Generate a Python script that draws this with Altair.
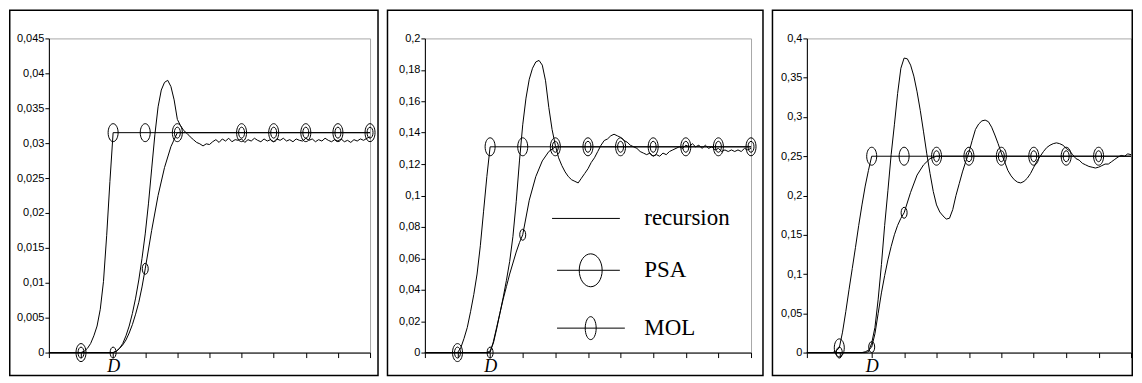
import altair as alt
import pandas as pd

# ---------------- data ----------------
STEP = 0.1  # recursion curves are sampled every 0.1 tick (x axis has 10 ticks)

P1_REC = [
    0, 0, 0, 0, 0, 0, 0, 0, 0, 0,
    0, 0, 0, 0, 0, 0, 0, 0, 0, 0,
    0, 0.0002, 0.0006, 0.0013, 0.0024, 0.0038, 0.0056, 0.0078, 0.0104, 0.0135,
    0.0170, 0.0213, 0.0263, 0.0312, 0.0352, 0.0376, 0.0387, 0.0390, 0.0381, 0.0362,
    0.0334, 0.0325, 0.0318, 0.0314, 0.0309, 0.0305, 0.0301, 0.0299, 0.0296, 0.0299,
    0.0298, 0.0302, 0.0305, 0.0301, 0.0306, 0.0303, 0.0307, 0.0302, 0.0305, 0.0304,
    0.0306, 0.0301, 0.0305, 0.0303, 0.0307, 0.0304, 0.0302, 0.0306, 0.0303, 0.0305,
    0.0302, 0.0306, 0.0304, 0.0307, 0.0303, 0.0305, 0.0302, 0.0306, 0.0304, 0.0303,
    0.0307, 0.0304, 0.0306, 0.0302, 0.0305, 0.0303, 0.0307, 0.0304, 0.0302, 0.0305,
    0.0303, 0.0306, 0.0302, 0.0304, 0.0301, 0.0305, 0.0303, 0.0306, 0.0304, 0.0307,
    0.0309,
]
P1_PSA_T = [0, 1.0, 1.1, 1.2, 1.3, 1.4, 1.5, 1.6, 1.7, 1.8, 1.9, 2.0, 10]
P1_PSA_Y = [0, 0, 0.0002, 0.0006, 0.0013, 0.0024, 0.0038, 0.0062, 0.0102, 0.0168, 0.0245, 0.0315, 0.0315]
P1_MOL_T = [0, 2.0, 2.1, 2.2, 2.3, 2.4, 2.5, 2.6, 2.7, 2.8, 2.9, 3.0, 3.2, 3.4, 3.6, 3.8, 4.0, 10]
P1_MOL_Y = [0, 0, 0.0002, 0.0006, 0.0011, 0.0018, 0.0028, 0.0040, 0.0055, 0.0072, 0.0094, 0.0120,
            0.0175, 0.0225, 0.0265, 0.0295, 0.0315, 0.0315]
P1_PSA_MK_T = [1, 2, 3, 4, 6, 7, 8, 9, 10]
P1_PSA_MK_Y = [0, 0.0315, 0.0315, 0.0315, 0.0315, 0.0315, 0.0315, 0.0315, 0.0315]
P1_MOL_MK_T = [1, 2, 3, 4, 6, 7, 8, 9, 10]
P1_MOL_MK_Y = [0, 0, 0.012, 0.0315, 0.0315, 0.0315, 0.0315, 0.0315, 0.0315]
P1_YTICKS = [0, 0.005, 0.01, 0.015, 0.02, 0.025, 0.03, 0.035, 0.04, 0.045]

P2_REC = [
    0, 0, 0, 0, 0, 0, 0, 0, 0, 0,
    0, 0, 0, 0, 0, 0, 0, 0, 0, 0,
    0.001, 0.006, 0.015, 0.025, 0.035, 0.046, 0.058, 0.074, 0.096, 0.122,
    0.145, 0.162, 0.174, 0.181, 0.185, 0.186, 0.183, 0.173, 0.156, 0.142,
    0.132, 0.124, 0.119, 0.115, 0.112, 0.110, 0.109, 0.108, 0.111, 0.114,
    0.117, 0.121, 0.124, 0.128, 0.132, 0.135, 0.136, 0.138, 0.139, 0.138,
    0.137, 0.135, 0.134, 0.132, 0.131, 0.130, 0.128, 0.127, 0.126, 0.127,
    0.125, 0.126, 0.125, 0.127, 0.126, 0.128, 0.129, 0.130, 0.131, 0.130,
    0.132, 0.131, 0.133, 0.131, 0.132, 0.130, 0.132, 0.130, 0.131, 0.129,
    0.130, 0.128, 0.129, 0.128, 0.129, 0.128, 0.129, 0.128, 0.130, 0.129,
    0.130,
]
P2_PSA_T = [0, 1.0, 1.1, 1.2, 1.3, 1.4, 1.5, 1.6, 1.7, 1.8, 1.9, 2.0, 10]
P2_PSA_Y = [0, 0, 0.003, 0.009, 0.016, 0.026, 0.037, 0.050, 0.068, 0.090, 0.112, 0.131, 0.131]
P2_MOL_T = [0, 2.0, 2.1, 2.2, 2.3, 2.4, 2.5, 2.6, 2.7, 2.8, 2.9, 3.0, 3.2, 3.4, 3.6, 3.8, 4.0, 10]
P2_MOL_Y = [0, 0, 0.007, 0.016, 0.025, 0.034, 0.042, 0.050, 0.057, 0.064, 0.070, 0.075,
            0.097, 0.112, 0.122, 0.128, 0.131, 0.131]
P2_PSA_MK_T = [1, 2, 3, 4, 5, 6, 7, 8, 9, 10]
P2_PSA_MK_Y = [0, 0.131, 0.131, 0.131, 0.131, 0.131, 0.131, 0.131, 0.131, 0.131]
P2_MOL_MK_T = [1, 2, 3, 4, 5, 6, 7, 8, 9, 10]
P2_MOL_MK_Y = [0, 0, 0.075, 0.131, 0.131, 0.131, 0.131, 0.131, 0.131, 0.131]
P2_YTICKS = [0, 0.02, 0.04, 0.06, 0.08, 0.1, 0.12, 0.14, 0.16, 0.18, 0.2]

P3_REC = [
    0, 0, 0, 0, 0, 0, 0, 0, 0, 0,
    0, 0, 0, 0, 0, 0, 0, 0, 0, 0.001,
    0.012, 0.032, 0.068, 0.112, 0.162, 0.206, 0.252, 0.290, 0.330, 0.362,
    0.375, 0.374, 0.366, 0.352, 0.332, 0.308, 0.281, 0.253, 0.228, 0.205,
    0.188, 0.179, 0.174, 0.170, 0.171, 0.182, 0.200, 0.215, 0.230, 0.243,
    0.255, 0.270, 0.284, 0.291, 0.295, 0.296, 0.294, 0.287, 0.277, 0.266,
    0.254, 0.243, 0.232, 0.225, 0.220, 0.217, 0.216, 0.218, 0.222, 0.228,
    0.236, 0.244, 0.250, 0.256, 0.261, 0.264, 0.266, 0.267, 0.266, 0.264,
    0.260, 0.257, 0.252, 0.247, 0.245, 0.241, 0.239, 0.237, 0.236, 0.235,
    0.236, 0.238, 0.240, 0.240, 0.243, 0.246, 0.249, 0.251, 0.250, 0.253,
    0.252,
]
P3_PSA_T = [0, 0.8, 0.9, 1.0, 1.1, 1.2, 1.3, 1.4, 1.5, 1.6, 1.7, 1.8, 1.9, 2.0, 10]
P3_PSA_Y = [0, 0, 0.002, 0.006, 0.026, 0.052, 0.080, 0.107, 0.134, 0.162, 0.188, 0.212, 0.232, 0.25, 0.25]
P3_MOL_T = [0, 1.7, 1.8, 1.9, 2.0, 2.1, 2.2, 2.3, 2.4, 2.5, 2.6, 2.7, 2.8, 2.9, 3.0,
            3.2, 3.4, 3.6, 3.8, 4.0, 10]
P3_MOL_Y = [0, 0, 0.001, 0.003, 0.007, 0.024, 0.050, 0.076, 0.098, 0.118, 0.135, 0.150, 0.162, 0.171, 0.178,
            0.204, 0.226, 0.239, 0.247, 0.25, 0.25]
P3_PSA_MK_T = [1, 2, 3, 4, 5, 6, 7, 8, 9]
P3_PSA_MK_Y = [0.006, 0.25, 0.25, 0.25, 0.25, 0.25, 0.25, 0.25, 0.25]
P3_MOL_MK_T = [1, 2, 3, 4, 5, 6, 7, 8, 9]
P3_MOL_MK_Y = [0, 0.007, 0.178, 0.25, 0.25, 0.25, 0.25, 0.25, 0.25]
P3_YTICKS = [0, 0.05, 0.1, 0.15, 0.2, 0.25, 0.3, 0.35, 0.4]

X_TICKS = list(range(11))
LEGEND_NAMES = ["recursion", "PSA", "MOL"]

# ---------------- styles ----------------
PSA_SHAPE = "M -0.556,0 A 0.556,1 0 1,0 0.556,0 A 0.556,1 0 1,0 -0.556,0 Z"
MOL_SHAPE = "M -0.545,0 A 0.545,1 0 1,0 0.545,0 A 0.545,1 0 1,0 -0.545,0 Z"
PSA_SIZE = 324
MOL_SIZE = 121

LEG_REC = "M -1.48,0 L 1.24,0"
LEG_PSA = ("M -1.28,0 L 1.24,0 M -0.39,0 A 0.46,0.66 0 1,0 0.53,0 "
           "A 0.46,0.66 0 1,0 -0.39,0 Z")
LEG_MOL = ("M -1.28,0 L 1.44,0 M -0.15,0 A 0.22,0.46 0 1,0 0.29,0 "
           "A 0.22,0.46 0 1,0 -0.15,0 Z")

H = 315


def panel(rec, psa_t, psa_y, mol_t, mol_y, pmt, pmy, mmt, mmy, ymax, yticks,
          w, fl, fr, legend=False):
    xsc = alt.Scale(domain=[0, 10], nice=False, zero=False)
    ysc = alt.Scale(domain=[0, ymax], nice=False)
    xax = alt.Axis(values=X_TICKS, tickSize=5, tickColor="black", domainColor="black",
                   labelExpr="datum.value == 2 ? 'D' : ''", labelFont="Liberation Serif",
                   labelFontStyle="italic", labelFontSize=18, labelColor="black",
                   labelPadding=0, labelOverlap=False, labelFlush=False, grid=False, title=None)
    yax = alt.Axis(values=yticks, tickSize=4, tickColor="black", domainColor="black",
                   labelExpr="replace(format(datum.value, '.3~f'), '.', ',')",
                   labelFont="Liberation Sans", labelFontSize=11, labelColor="black",
                   labelPadding=1, grid=False, title=None)
    X = alt.X("t:Q", scale=xsc, axis=xax)
    Y = alt.Y("y:Q", scale=ysc, axis=yax)

    rec_df = pd.DataFrame({"t": [round(i * STEP, 2) for i in range(len(rec))], "y": rec})
    psa_df = pd.DataFrame({"t": psa_t, "y": psa_y})
    mol_df = pd.DataFrame({"t": mol_t, "y": mol_y})
    pmk = pd.DataFrame({"t": pmt, "y": pmy})
    mmk = pd.DataFrame({"t": mmt, "y": mmy})

    frame = alt.Chart(pd.DataFrame({"k": [0]})).mark_rect(
        fill="transparent", stroke="black", strokeWidth=1.5
    ).encode(x=alt.value(fl), x2=alt.value(w + fr), y=alt.value(-28.25), y2=alt.value(H + 23))

    line_kw = dict(color="black", strokeWidth=1)
    l_rec = alt.Chart(rec_df).mark_line(**line_kw).encode(x=X, y=Y)
    l_psa = alt.Chart(psa_df).mark_line(**line_kw).encode(x=X, y=Y)
    l_mol = alt.Chart(mol_df).mark_line(**line_kw).encode(x=X, y=Y)
    m_psa = alt.Chart(pmk).mark_point(shape=PSA_SHAPE, size=PSA_SIZE, filled=False,
                                      color="black", strokeWidth=1, opacity=1).encode(x=X, y=Y)
    m_mol = alt.Chart(mmk).mark_point(shape=MOL_SHAPE, size=MOL_SIZE, filled=False,
                                      color="black", strokeWidth=1, opacity=1).encode(x=X, y=Y)
    layers = [frame, l_rec, l_psa, l_mol, m_psa, m_mol]

    if legend:
        leg_df = pd.DataFrame({"t": [-5, -5, -5], "y": [0.1, 0.1, 0.1], "s": LEGEND_NAMES})
        leg = alt.Chart(leg_df).mark_point(filled=False, color="black", clip=True).encode(
            x=X, y=Y,
            shape=alt.Shape("s:N",
                            scale=alt.Scale(domain=LEGEND_NAMES, range=[LEG_REC, LEG_PSA, LEG_MOL]),
                            legend=alt.Legend(orient="none", legendX=139, legendY=155, title=None,
                                              symbolSize=2500, symbolStrokeColor="black",
                                              symbolFillColor="transparent", symbolStrokeWidth=1,
                                              symbolOpacity=1, labelFont="Liberation Serif",
                                              labelFontSize=23, labelColor="black", labelOffset=30,
                                              rowPadding=14, padding=0, direction="vertical")),
        )
        layers.append(leg)

    return alt.layer(*layers).properties(width=w, height=H)


p1 = panel(P1_REC, P1_PSA_T, P1_PSA_Y, P1_MOL_T, P1_MOL_Y, P1_PSA_MK_T, P1_PSA_MK_Y,
           P1_MOL_MK_T, P1_MOL_MK_Y, 0.045, P1_YTICKS, 322, -39.25, 8)
p2 = panel(P2_REC, P2_PSA_T, P2_PSA_Y, P2_MOL_T, P2_MOL_Y, P2_PSA_MK_T, P2_PSA_MK_Y,
           P2_MOL_MK_T, P2_MOL_MK_Y, 0.2, P2_YTICKS, 327, -37.5, 12, legend=True)
p3 = panel(P3_REC, P3_PSA_T, P3_PSA_Y, P3_MOL_T, P3_MOL_Y, P3_PSA_MK_T, P3_PSA_MK_Y,
           P3_MOL_MK_T, P3_MOL_MK_Y, 0.4, P3_YTICKS, 325, -34.5, 1.25)

chart = alt.hconcat(p1, p2, p3, spacing=6).resolve_scale(
    shape="independent"
).resolve_legend(
    shape="independent"
).properties(
    padding=0, background="white"
).configure_view(stroke="#a8a8a8", strokeWidth=1)

chart.save("out.html", embed_options={"renderer": "svg", "actions": False})
